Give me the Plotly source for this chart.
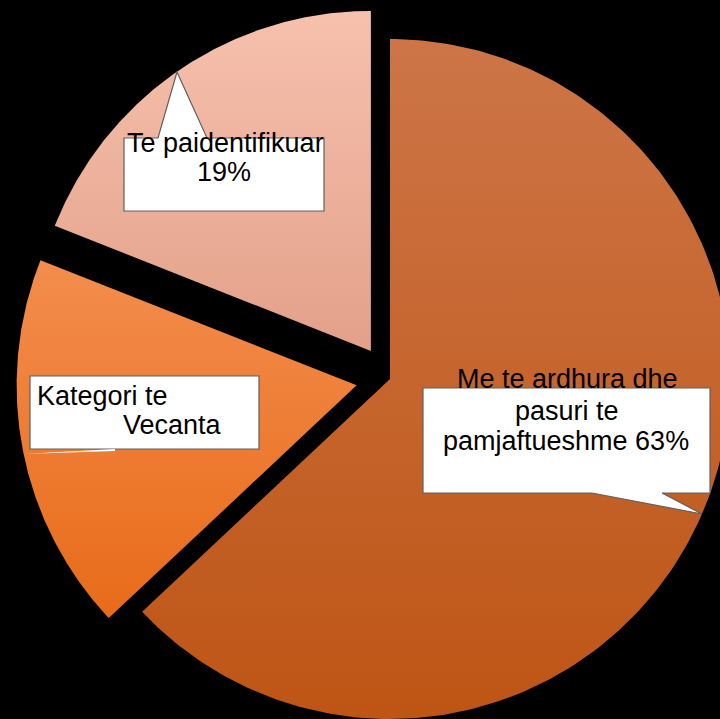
import numpy as np
import plotly.graph_objects as go

# ---- data ----
labels = ["Me te ardhura dhe pasuri te pamjaftueshme", "Kategori te Vecanta", "Te paidentifikuar"]
values = [63, 18, 19]

# ---- style ----
pulls = [0.0, 0.1, 0.1]
top_colors = ["#CD7547", "#F38D4D", "#F6C1AD"]
bottom_colors = ["#BE5515", "#E86B19", "#E3A08A"]

W, H = 720, 719
CX, CY, R = 390.0, 379.0, 340.0  # pie centre / radius in pixels


def px(x):
    return x / W


def py(y):
    return 1 - y / H


fig = go.Figure()
total = float(sum(values))
cum = 0.0
for lab, v, p, tc, bc in zip(labels, values, pulls, top_colors, bottom_colors):
    a0 = 2 * np.pi * cum / total
    a1 = 2 * np.pi * (cum + v) / total
    cum += v
    mid = (a0 + a1) / 2
    ox, oy = p * np.sin(mid), p * np.cos(mid)
    t = np.linspace(a0, a1, 240)
    xs = np.concatenate([[ox], ox + np.sin(t), [ox]])
    ys = np.concatenate([[oy], oy + np.cos(t), [oy]])
    fig.add_trace(go.Scatter(
        x=xs, y=ys, mode="lines", fill="toself",
        line=dict(width=0, color="rgba(0,0,0,0)"),
        fillcolor=tc,
        fillgradient=dict(type="vertical", colorscale=[[0, bc], [1, tc]]),
        name=f"{lab} {v}%", hoverinfo="name", showlegend=False,
    ))


def path(points):
    s = "M " + " L ".join(f"{px(x):.5f},{py(y):.5f}" for x, y in points) + " Z"
    return s


box_style = dict(type="path", xref="paper", yref="paper",
                 fillcolor="white", line=dict(color="#606060", width=1.2), layer="above")

shapes = [
    dict(path=path([(124, 138), (158, 138), (177, 72), (207, 138), (324, 138), (324, 211), (124, 211)]), **box_style),
    dict(path=path([(30, 376), (259, 376), (259, 449), (30, 449)]), **box_style),
    dict(path=path([(423, 388), (710, 388), (710, 493), (662, 493), (702, 514), (592, 493), (423, 493)]), **box_style),
    dict(type="path", xref="paper", yref="paper", path=path([(23, 454), (115, 449), (115, 451)]),
         fillcolor="white", line=dict(width=0), layer="above"),
]

font = dict(family="Arial, Liberation Sans, sans-serif", size=27, color="black")
texts = [
    ("Te paidentifikuar", 225, 152, "center"),
    ("19%", 224, 181, "center"),
    ("Kategori te", 35, 405, "left"),
    ("Vecanta", 121, 434, "left"),
    ("Me te ardhura dhe", 567, 388, "center"),
    ("pasuri te", 567, 420, "center"),
    ("pamjaftueshme 63%", 566, 450, "center"),
]
annotations = [
    dict(text=t, x=px(x), y=py(b - 9), xref="paper", yref="paper", showarrow=False,
         xanchor=a, yanchor="middle", font=font)
    for t, x, b, a in texts
]

fig.update_layout(
    width=W, height=H,
    margin=dict(l=0, r=0, t=0, b=0),
    paper_bgcolor="black", plot_bgcolor="black",
    xaxis=dict(range=[-CX / R, (W - CX) / R], visible=False, fixedrange=True),
    yaxis=dict(range=[(CY - H) / R, CY / R], visible=False, fixedrange=True),
    shapes=shapes, annotations=annotations, showlegend=False,
)

fig.write_html(
    "out.html",
    config={"displayModeBar": False},
    post_script="document.body.style.margin='0px';document.body.style.background='black';"
                "document.body.style.overflow='hidden';",
)
